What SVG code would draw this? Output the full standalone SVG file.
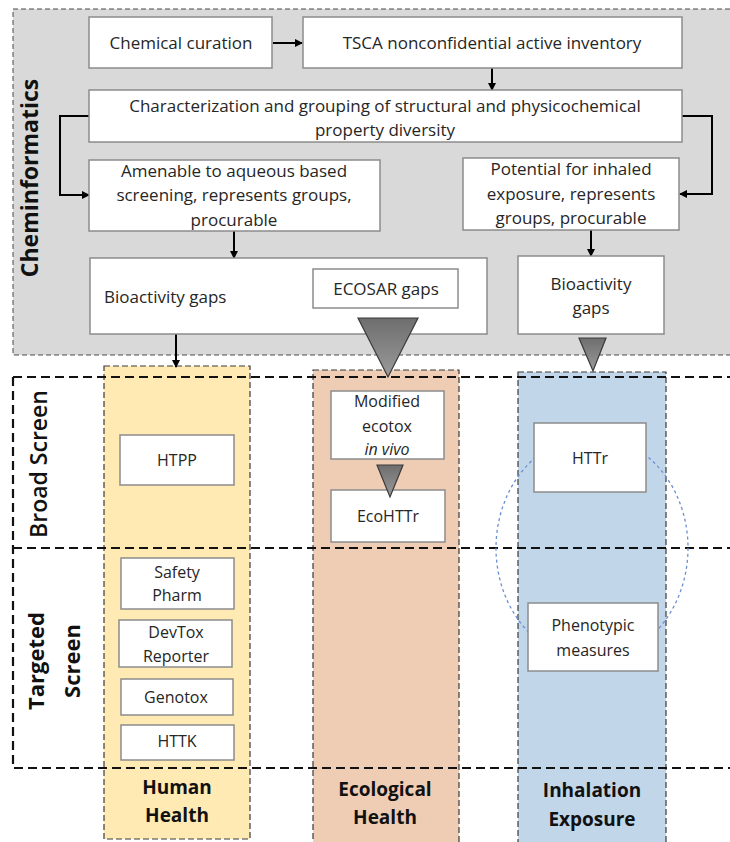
<svg xmlns="http://www.w3.org/2000/svg" width="730" height="842" viewBox="0 0 730 842">
<defs>
<style>
.t{font-family:"Open Sans","Noto Sans",sans-serif;font-size:17px;fill:#262626;text-anchor:middle}
.s{font-size:16px}
.b{font-family:"Open Sans","Noto Sans",sans-serif;font-weight:bold;font-size:19px;fill:#111;text-anchor:middle}
.box{fill:#fff;stroke:#8c8c8c;stroke-width:1.5}
.col{stroke:#3a3a3a;stroke-width:1.2;stroke-dasharray:6 3}
.frame{fill:none;stroke:#111;stroke-width:2.2;stroke-dasharray:9 5}
.con{fill:none;stroke:#000;stroke-width:2}
.tri{fill:url(#g);stroke:#3a3a3a;stroke-width:1.2}
</style>
<linearGradient id="g" x1="0" y1="0" x2="0" y2="1">
<stop offset="0" stop-color="#6e6e6e"/>
<stop offset="1" stop-color="#9a9a9a"/>
</linearGradient>
<marker id="ah" markerWidth="8" markerHeight="8" refX="7" refY="4" orient="auto" markerUnits="userSpaceOnUse">
<path d="M0,0 L8,4 L0,8 Z" fill="#000"/>
</marker>
</defs>
<rect x="0" y="0" width="730" height="842" fill="#fff"/>

<g id="cheminformatics">
<rect x="13" y="9" width="730" height="346" fill="#d9d9d9" stroke="#4a4a4a" stroke-width="1" stroke-dasharray="5 3"/>
<text class="b" font-size="23" style="font-size:23px" transform="translate(38,178) rotate(-90)">Cheminformatics</text>
</g>

<g id="human-health-col">
<rect class="col" x="104" y="366" width="146" height="473" fill="#ffeab4"/>
<text class="b" x="177" y="794">Human</text>
<text class="b" x="177" y="822">Health</text>
</g>
<g id="ecological-health-col">
<rect class="col" x="313" y="370" width="146" height="480" fill="#eecdb4"/>
<text class="b" x="385" y="796">Ecological</text>
<text class="b" x="385" y="824">Health</text>
</g>
<g id="inhalation-col">
<rect class="col" x="518" y="372" width="148" height="480" fill="#c2d6ea"/>
<text class="b" x="592" y="797">Inhalation</text>
<text class="b" x="592" y="826">Exposure</text>
</g>

<g id="screen-frame">
<path class="frame" d="M13,377 H730 M13,377 V768 H730 M13,548 H730"/>
<text class="b" style="font-size:23px;font-weight:600" transform="translate(47,464) rotate(-90)">Broad Screen</text>
<text class="b" style="font-size:22px" transform="translate(44,661) rotate(-90)">Targeted</text>
<text class="b" style="font-size:22px" transform="translate(80,661) rotate(-90)">Screen</text>
</g>

<ellipse id="overlap" cx="592" cy="548" rx="96" ry="112" fill="none" stroke="#6a8fd2" stroke-width="1.3" stroke-dasharray="3 3"/>

<g id="connectors">
<line class="con" x1="273" y1="43" x2="302" y2="43" marker-end="url(#ah)"/>
<line class="con" x1="492" y1="68" x2="492" y2="90" marker-end="url(#ah)"/>
<polyline class="con" points="89,116 60,116 60,195 89,195" marker-end="url(#ah)"/>
<polyline class="con" points="682,116 712,116 712,194 680,194" marker-end="url(#ah)"/>
<line class="con" x1="234" y1="231" x2="234" y2="258" marker-end="url(#ah)"/>
<line class="con" x1="591" y1="230" x2="591" y2="256" marker-end="url(#ah)"/>
<line class="con" x1="176" y1="334" x2="176" y2="367" marker-end="url(#ah)"/>
</g>

<g id="chemical-curation">
<rect class="box" x="89" y="17" width="183" height="51"/>
<text class="t" x="181" y="49">Chemical curation</text>
</g>
<g id="tsca">
<rect class="box" x="303" y="17" width="379" height="51"/>
<text class="t" x="492" y="49">TSCA nonconfidential active inventory</text>
</g>
<g id="characterization">
<rect class="box" x="89" y="90" width="593" height="52"/>
<text class="t" x="385" y="112">Characterization and grouping of structural and physicochemical</text>
<text class="t" x="385" y="136">property diversity</text>
</g>
<g id="amenable">
<rect class="box" x="89" y="160" width="291" height="71"/>
<text class="t" x="234" y="177">Amenable to aqueous based</text>
<text class="t" x="234" y="201">screening, represents groups,</text>
<text class="t" x="234" y="226">procurable</text>
</g>
<g id="potential">
<rect class="box" x="463" y="158" width="216" height="72"/>
<text class="t" x="571" y="175">Potential for inhaled</text>
<text class="t" x="571" y="200">exposure, represents</text>
<text class="t" x="571" y="224">groups, procurable</text>
</g>
<g id="bioactivity-gaps-1">
<rect class="box" x="90" y="258" width="397" height="76"/>
<text class="t" x="104" y="303" style="text-anchor:start">Bioactivity gaps</text>
</g>
<g id="ecosar-gaps">
<rect class="box" x="313" y="269" width="145" height="39"/>
<text class="t" x="386" y="295">ECOSAR gaps</text>
</g>
<g id="bioactivity-gaps-2">
<rect class="box" x="518" y="256" width="146" height="78"/>
<text class="t" x="591" y="290">Bioactivity</text>
<text class="t" x="591" y="314">gaps</text>
</g>
<g id="tri-ecosar"><polygon class="tri" points="358,318 418,318 388,377"/></g>
<g id="tri-bio2"><polygon class="tri" points="579,338 606,338 593,371"/></g>

<g id="htpp">
<rect class="box" x="120" y="435" width="114" height="50"/>
<text class="t s" x="177" y="466">HTPP</text>
</g>
<g id="safety-pharm">
<rect class="box" x="121" y="558" width="113" height="51"/>
<text class="t s" x="177" y="578">Safety</text>
<text class="t s" x="177" y="601">Pharm</text>
</g>
<g id="devtox">
<rect class="box" x="119" y="620" width="113" height="47"/>
<text class="t s" x="176" y="638">DevTox</text>
<text class="t s" x="176" y="662">Reporter</text>
</g>
<g id="genotox">
<rect class="box" x="121" y="679" width="112" height="36"/>
<text class="t s" x="176" y="703">Genotox</text>
</g>
<g id="httk">
<rect class="box" x="121" y="725" width="113" height="35"/>
<text class="t s" x="177" y="747">HTTK</text>
</g>

<g id="modified-ecotox">
<rect class="box" x="331" y="391" width="113" height="68"/>
<text class="t s" x="387" y="407">Modified</text>
<text class="t s" x="387" y="432">ecotox</text>
<text class="t s" x="387" y="455" font-style="italic">in vivo</text>
</g>
<g id="ecohttr">
<rect class="box" x="331" y="490" width="114" height="52"/>
<text class="t s" x="388" y="522">EcoHTTr</text>
</g>
<g id="tri-eco"><polygon class="tri" points="377,465 403,465 390,497"/></g>

<g id="httr">
<rect class="box" x="534" y="423" width="112" height="69"/>
<text class="t s" x="590" y="464">HTTr</text>
</g>
<g id="phenotypic">
<rect class="box" x="528" y="603" width="130" height="68"/>
<text class="t s" x="593" y="631">Phenotypic</text>
<text class="t s" x="593" y="656">measures</text>
</g>
</svg>
